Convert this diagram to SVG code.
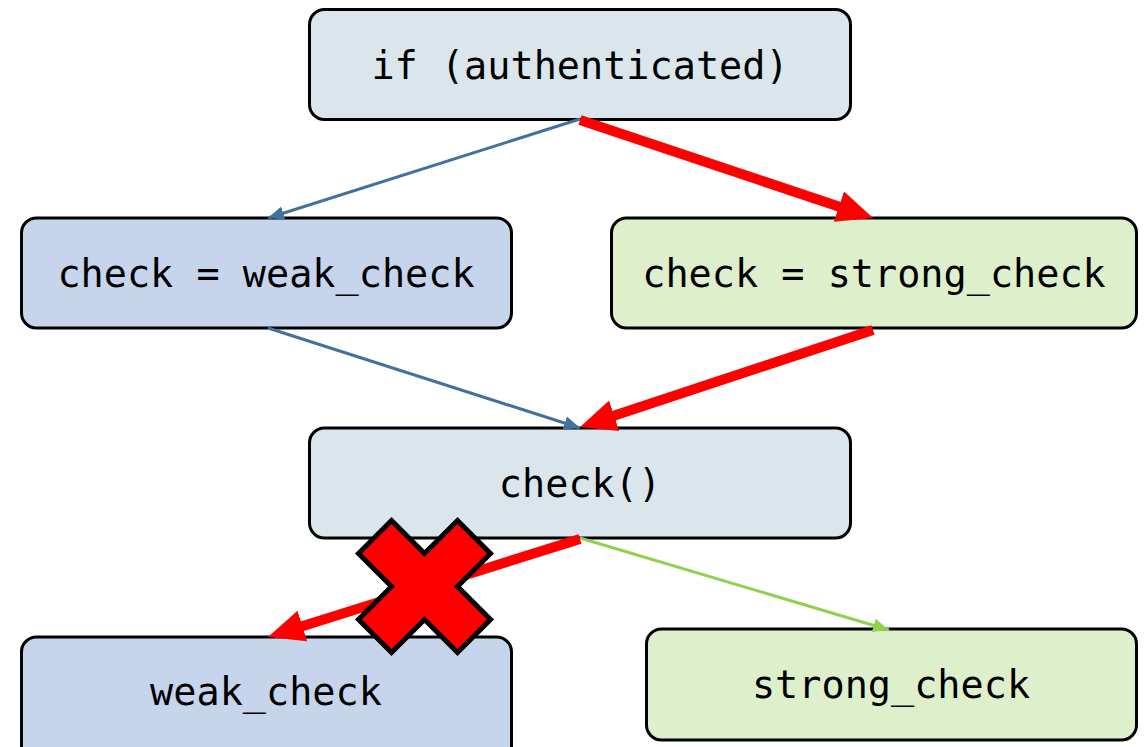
<svg xmlns="http://www.w3.org/2000/svg" width="1148" height="747" viewBox="0 0 1148 747">
  <style>
    .box { stroke: #000; stroke-width: 3; }
    .neutral { fill: #dae6eb; }
    .weak { fill: #c6d4ec; }
    .strong { fill: #deefcc; }
    .label { font-family: "DejaVu Sans Mono", "Liberation Mono", monospace; font-size: 38.5px; fill: #000; text-anchor: middle; }
    .thin-blue { stroke: #41719c; stroke-width: 3; fill: none; }
    .thin-green { stroke: #92d050; stroke-width: 3; fill: none; }
    .bold-red { stroke: #ff0000; stroke-width: 10; fill: none; }
  </style>
  <defs>
    <marker id="head-blue" markerUnits="userSpaceOnUse" markerWidth="17" markerHeight="15" refX="16" refY="7" orient="auto">
      <path d="M0,0 L16,7 L0,14 z" fill="#41719c"/>
    </marker>
    <marker id="head-green" markerUnits="userSpaceOnUse" markerWidth="17" markerHeight="15" refX="16" refY="7" orient="auto">
      <path d="M0,0 L16,7 L0,14 z" fill="#92d050"/>
    </marker>
    <marker id="head-red" markerUnits="userSpaceOnUse" markerWidth="38" markerHeight="34" refX="6" refY="16" orient="auto">
      <path d="M0,0 L36,16 L0,32 z" fill="#ff0000"/>
    </marker>
  </defs>

  <!-- nodes -->
  <g id="node-if">
    <rect class="box neutral" x="309.5" y="9.5" width="541" height="110" rx="15"/>
    <text class="label" x="580" y="79">if (authenticated)</text>
  </g>
  <g id="node-assign-weak">
    <rect class="box weak" x="21.5" y="218" width="490" height="110" rx="15"/>
    <text class="label" x="266" y="287">check = weak_check</text>
  </g>
  <g id="node-assign-strong">
    <rect class="box strong" x="611.5" y="218" width="525" height="110" rx="15"/>
    <text class="label" x="874" y="287">check = strong_check</text>
  </g>
  <g id="node-call">
    <rect class="box neutral" x="309.5" y="428" width="541" height="110" rx="15"/>
    <text class="label" x="580" y="497">check()</text>
  </g>
  <g id="node-weak">
    <rect class="box weak" x="21.5" y="637" width="490" height="125" rx="15"/>
    <text class="label" x="266" y="705">weak_check</text>
  </g>
  <g id="node-strong">
    <rect class="box strong" x="646.5" y="629" width="490" height="111" rx="15"/>
    <text class="label" x="891" y="698">strong_check</text>
  </g>

  <!-- connectors -->
  <g id="connectors">
    <line class="thin-blue" x1="580" y1="119" x2="268" y2="218" marker-end="url(#head-blue)"/>
    <line class="bold-red" x1="580" y1="120" x2="844.6" y2="208.5" marker-end="url(#head-red)"/>
    <line class="thin-blue" x1="268" y1="328" x2="580" y2="428" marker-end="url(#head-blue)"/>
    <line class="bold-red" x1="873" y1="330" x2="608.5" y2="417.6" marker-end="url(#head-red)"/>
    <line class="bold-red" x1="580" y1="539" x2="296.6" y2="627.9" marker-end="url(#head-red)"/>
    <line class="thin-green" x1="580" y1="538" x2="889" y2="630" marker-end="url(#head-green)"/>
  </g>

  <!-- blocked-path cross -->
  <g id="cross">
    <polygon transform="translate(424.5 586.5)" fill="#ff0000" stroke="#000" stroke-width="5" stroke-linejoin="miter"
      points="-66,-33 -33,-66 0,-33 33,-66 66,-33 33,0 66,33 33,66 0,33 -33,66 -66,33 -33,0"/>
  </g>
</svg>
